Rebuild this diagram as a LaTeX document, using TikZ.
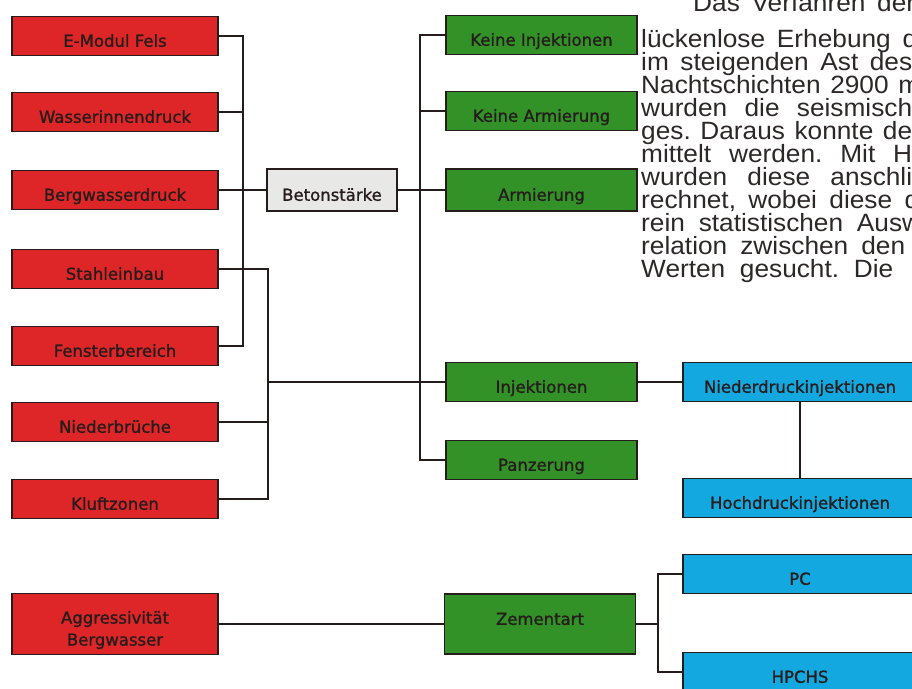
\documentclass[tikz,border=0pt]{standalone}
\usepackage{fontspec}
\setmainfont{DejaVu Sans}[FakeBold=1.2]
\newfontfamily\bodyfont[FakeStretch=1.05]{Liberation Sans}
\definecolor{ink}{RGB}{38,28,28}
\definecolor{paraink}{RGB}{45,40,40}
\definecolor{boxred}{RGB}{222,38,40}
\definecolor{boxgreen}{RGB}{50,146,40}
\definecolor{boxblue}{RGB}{20,168,224}
\definecolor{boxgrey}{RGB}{232,232,230}
\frenchspacing
\begin{document}
\begin{tikzpicture}[x=1pt,y=-1pt,
  box/.style={draw=ink, line width=1.6pt, inner sep=0pt, minimum height=39pt,
    font=\fontsize{16.5}{22}\selectfont, text=ink, text height=21.5pt, text depth=0pt},
  redbox/.style={box, fill=boxred, minimum width=206pt},
  greenbox/.style={box, fill=boxgreen, minimum width=191pt},
  bluebox/.style={box, fill=boxblue, minimum width=234pt},
  greybox/.style={box, fill=boxgrey, minimum width=130pt, minimum height=42pt},
  boxlabel/.style={inner sep=0pt, font=\fontsize{16.5}{22}\selectfont, text=ink, align=center},
  link/.style={draw=ink, line width=1.8pt, line join=miter},
  para/.style={anchor=base west, inner sep=0pt, text=paraink,
    font=\bodyfont\fontsize{25}{23}\selectfont}]
\useasboundingbox (0,0) rectangle (912,688);
\clip (0,0) rectangle (912,688);

% red boxes
\node[redbox] (emodul) at (115,36) {E-Modul Fels};
\node[redbox] (wasser) at (115,112) {Wasserinnendruck};
\node[redbox] (bergw)  at (115,190) {Bergwasserdruck};
\node[redbox] (stahl)  at (115,269) {Stahleinbau};
\node[redbox] (fenster) at (115,346) {Fensterbereich};
\node[redbox] (nieder) at (115,422) {Niederbrüche};
\node[redbox] (kluft)  at (115,499) {Kluftzonen};
\node[redbox, minimum height=61pt] (aggr) at (115,624) {};
\node[boxlabel] (aggrlbl) at (115,630) {Aggressivität\\Bergwasser};

% grey box
\node[greybox] (beton) at (332,190) {Betonstärke};

% green boxes
\node[greenbox] (keininj) at (541.5,35) {Keine Injektionen};
\node[greenbox] (keinarm) at (541.5,111) {Keine Armierung};
\node[greenbox, minimum height=42pt] (arm) at (541.5,190) {Armierung};
\node[greenbox] (inj)  at (541.5,382) {Injektionen};
\node[greenbox] (panz) at (541.5,460) {Panzerung};
\node[greenbox, minimum height=60pt, text height=10pt, text depth=8.3pt] (zem) at (540,624) {Zementart};

% blue boxes
\node[bluebox] (ndi) at (800,382) {Niederdruckinjektionen};
\node[bluebox] (hdi) at (800,498) {Hochdruckinjektionen};
\node[bluebox] (pc) at (800,574) {PC};
\node[bluebox] (hpchs) at (800,672) {HPCHS};

% bus coordinates
\coordinate (busA) at (243,0);
\coordinate (busB) at (268,0);
\coordinate (busC) at (420,0);
\coordinate (busD) at (658,0);

% connectors
\draw[link] (emodul.east) -- (emodul.east -| busA) -- (fenster.east -| busA) -- (fenster.east);
\draw[link] (wasser.east) -- (wasser.east -| busA);
\draw[link] (bergw.east) -- (beton.west);
\draw[link] (stahl.east) -- (stahl.east -| busB) -- (kluft.east -| busB) -- (kluft.east);
\draw[link] (nieder.east) -- (nieder.east -| busB);
\draw[link] (inj.west -| busB) -- (inj.west);
\draw[link] (keininj.west) -- (keininj.west -| busC) -- (panz.west -| busC) -- (panz.west);
\draw[link] (keinarm.west) -- (keinarm.west -| busC);
\draw[link] (beton.east) -- (arm.west);
\draw[link] (inj.east) -- (ndi.west);
\draw[link] (ndi.south) -- (hdi.north);
\draw[link] (aggr.east) -- (zem.west);
\draw[link] (zem.east) -- (zem.east -| busD);
\draw[link] (pc.west) -- (pc.west -| busD) -- (hpchs.west -| busD) -- (hpchs.west);

% cut-off book text
\node[para] (t1)  at (693,11)  {\makebox[222pt][s]{Das Verfahren der}};
\node[para] (t2)  at (641,47)  {\makebox[276pt][s]{lückenlose Erhebung d}};
\node[para] (t3)  at (641,70)  {\makebox[271pt][s]{im steigenden Ast des}};
\node[para] (t4)  at (641,93)  {\makebox[279pt][s]{Nachtschichten 2900 m}};
\node[para] (t5)  at (641,116) {\makebox[271pt][s]{wurden die seismisch}};
\node[para] (t6)  at (641,139) {\makebox[271pt][s]{ges. Daraus konnte de}};
\node[para] (t7)  at (641,162) {\makebox[271pt][s]{mittelt werden. Mit H}};
\node[para] (t8)  at (641,185) {\makebox[271pt][s]{wurden diese anschli}};
\node[para] (t9)  at (641,208) {\makebox[278pt][s]{rechnet, wobei diese d}};
\node[para] (t10) at (641,231) {\makebox[280pt][s]{rein statistischen Ausw}};
\node[para] (t11) at (641,254) {\makebox[264pt][s]{relation zwischen den}};
\node[para] (t12) at (641,277) {\makebox[252pt][s]{Werten gesucht. Die}};
\end{tikzpicture}
\end{document}
